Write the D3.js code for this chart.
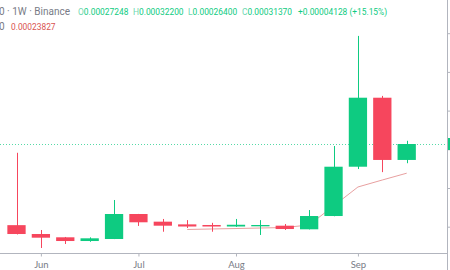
<!DOCTYPE html>
<html>
<head>
<meta charset="utf-8">
<script src="https://cdn.jsdelivr.net/npm/d3@7"></script>
<style>
  html, body { margin: 0; padding: 0; background: #fff; }
  svg { display: block; font-family: Roboto, "Liberation Sans", sans-serif; }
</style>
</head>
<body>
<div id="chart"></div>
<script>
// weekly candles (Monday open)
const weeks = ["2021-05-31", "2021-06-07", "2021-06-14", "2021-06-21", "2021-06-28",
  "2021-07-05", "2021-07-12", "2021-07-19", "2021-07-26", "2021-08-02", "2021-08-09",
  "2021-08-16", "2021-08-23", "2021-08-30", "2021-09-06", "2021-09-13", "2021-09-20"];
const opens  = [0.000104, 0.0000811, 0.0000726, 0.000063, 0.0000682, 0.0001328, 0.000113, 0.000106,
  0.0001044, 0.0001005, 0.000101, 0.0001026, 0.0000933, 0.0001276, 0.000255, 0.0004333, 0.00027248];
const highs  = [0.000291, 0.0000915, 0.0000735, 0.0000725, 0.000169, 0.000133, 0.00012, 0.000117,
  0.00011, 0.00012, 0.000117, 0.000107, 0.000143, 0.0003085, 0.000593, 0.000438, 0.000322];
const lows   = [0.00008, 0.000045, 0.0000553, 0.000061, 0.000068, 0.000102, 0.000087, 0.0000966,
  0.000087, 0.0000995, 0.0000786, 0.0000915, 0.000093, 0.000127, 0.000249, 0.000241, 0.000264];
const closes = [0.0000811, 0.0000716, 0.000063, 0.00007, 0.0001328, 0.0001114, 0.0001026, 0.0001005,
  0.0001005, 0.000105, 0.0001044, 0.000094, 0.0001276, 0.000255, 0.0004333, 0.00027248, 0.0003137];
// moving average line, starts at the 8th bar
const maWeeks = weeks.slice(7);
const maValues = [0.0000928, 0.0000941, 0.0000953, 0.0000966, 0.0000979, 0.0001044,
  0.0001535, 0.0002026, 0.0002207, 0.00023827];
const priceTicks = [0.0001, 0.0002, 0.0003, 0.0004, 0.0005, 0.0006];
// legend as shown on the chart
const legendOHLC = [["O", "0.00027248"], ["H", "0.00032200"], ["L", "0.00026400"], ["C", "0.00031370"]];
const legendChange = "+0.00004128 (+15.15%)";
const legendMA = "0.00023827";

const width = 450, height = 270;
const up = "#0ecb81", down = "#f6465d";
const axisColor = "#b2b5be";
const parse = d3.timeParse("%Y-%m-%d");
const dates = weeks.map(parse);

const bars = dates.map((d, i) => ({
  date: d, open: opens[i], high: highs[i], low: lows[i], close: closes[i]
}));

const svg = d3.select("#chart").append("svg")
  .attr("width", width)
  .attr("height", height);

const x = d3.scaleTime()
  .domain([dates[0], dates[dates.length - 1]])
  .range([16.5, 406.7]);
const y = d3.scaleLinear()
  .domain([0.0003, 0.0004])
  .range([149.3, 110.6]);

const step = x(dates[1]) - x(dates[0]);
const bodyW = step * 0.75;

// current price line
const last = bars[bars.length - 1];
svg.append("line")
  .attr("x1", 0).attr("x2", 446)
  .attr("y1", Math.round(y(last.close)) + 0.5).attr("y2", Math.round(y(last.close)) + 0.5)
  .attr("stroke", up).attr("stroke-opacity", 0.7)
  .attr("stroke-dasharray", "1,2");

// MA line
const maLine = d3.line()
  .x((d, i) => x(parse(maWeeks[i])))
  .y(d => y(d));
svg.append("path")
  .datum(maValues)
  .attr("d", maLine)
  .attr("fill", "none")
  .attr("stroke", "#e8a0a0")
  .attr("stroke-width", 1);

// candles
const candle = svg.selectAll(".candle").data(bars).enter().append("g")
  .attr("class", "candle");
candle.append("line")
  .attr("x1", d => Math.round(x(d.date)) + 0.5)
  .attr("x2", d => Math.round(x(d.date)) + 0.5)
  .attr("y1", d => y(d.high))
  .attr("y2", d => y(d.low))
  .attr("stroke", d => d.close >= d.open ? up : down)
  .attr("stroke-width", 1);
candle.append("rect")
  .attr("x", d => x(d.date) - bodyW / 2)
  .attr("width", bodyW)
  .attr("y", d => y(Math.max(d.open, d.close)))
  .attr("height", d => Math.max(1, Math.abs(y(d.open) - y(d.close))))
  .attr("fill", d => d.close >= d.open ? up : down);

// bottom time axis: label the first bar of each month
const monthStarts = dates.filter((d, i) => i > 0 && d.getMonth() !== dates[i - 1].getMonth());
const xAxis = d3.axisBottom(x)
  .tickValues(monthStarts)
  .tickFormat(d3.timeFormat("%b"))
  .tickSize(3)
  .tickPadding(5);
const gx = svg.append("g")
  .attr("transform", "translate(0,253.5)")
  .call(xAxis);
gx.select(".domain").remove();
gx.selectAll(".tick line").attr("stroke", axisColor);
gx.selectAll(".tick text").attr("fill", "#787b86").attr("font-size", 9.5)
  .attr("font-family", "Lato, Roboto, sans-serif");
svg.append("line")
  .attr("x1", 0).attr("x2", 447)
  .attr("y1", 253.5).attr("y2", 253.5)
  .attr("stroke", axisColor);

// right price axis (labels fall outside the window)
const yAxis = d3.axisRight(y)
  .tickValues(priceTicks)
  .tickSize(4)
  .tickFormat("");
const gy = svg.append("g")
  .attr("transform", "translate(447.5,0)")
  .call(yAxis);
gy.select(".domain").remove();
gy.selectAll(".tick line").attr("stroke", axisColor);
svg.append("line")
  .attr("x1", 447.5).attr("x2", 447.5)
  .attr("y1", 0).attr("y2", height)
  .attr("stroke", axisColor);

// price tag at the right edge
svg.append("rect")
  .attr("x", 448).attr("y", y(last.close) - 6)
  .attr("width", 4).attr("height", 12)
  .attr("fill", up);

// legend
const head = svg.append("g").attr("font-size", 10);
head.append("text")
  .attr("x", -1).attr("y", 14.5)
  .attr("fill", "#787b86")
  .text("0 · 1W · Binance");
const legendX = [78, 133, 188, 242];
legendOHLC.forEach(([k, v], i) => {
  const t = head.append("text").attr("x", legendX[i]).attr("y", 14.5).attr("font-size", 8.4);
  t.append("tspan").attr("fill", "#6fd8b2").text(k);
  t.append("tspan").attr("fill", up).text(v);
});
head.append("text")
  .attr("x", 298).attr("y", 14.5).attr("font-size", 8.4)
  .attr("fill", up)
  .text(legendChange);
head.append("text")
  .attr("x", -1).attr("y", 30)
  .attr("fill", "#787b86")
  .text("0");
head.append("text")
  .attr("x", 11).attr("y", 30).attr("font-size", 8.4)
  .attr("fill", "#d9534f")
  .text(legendMA);
</script>
</body>
</html>
